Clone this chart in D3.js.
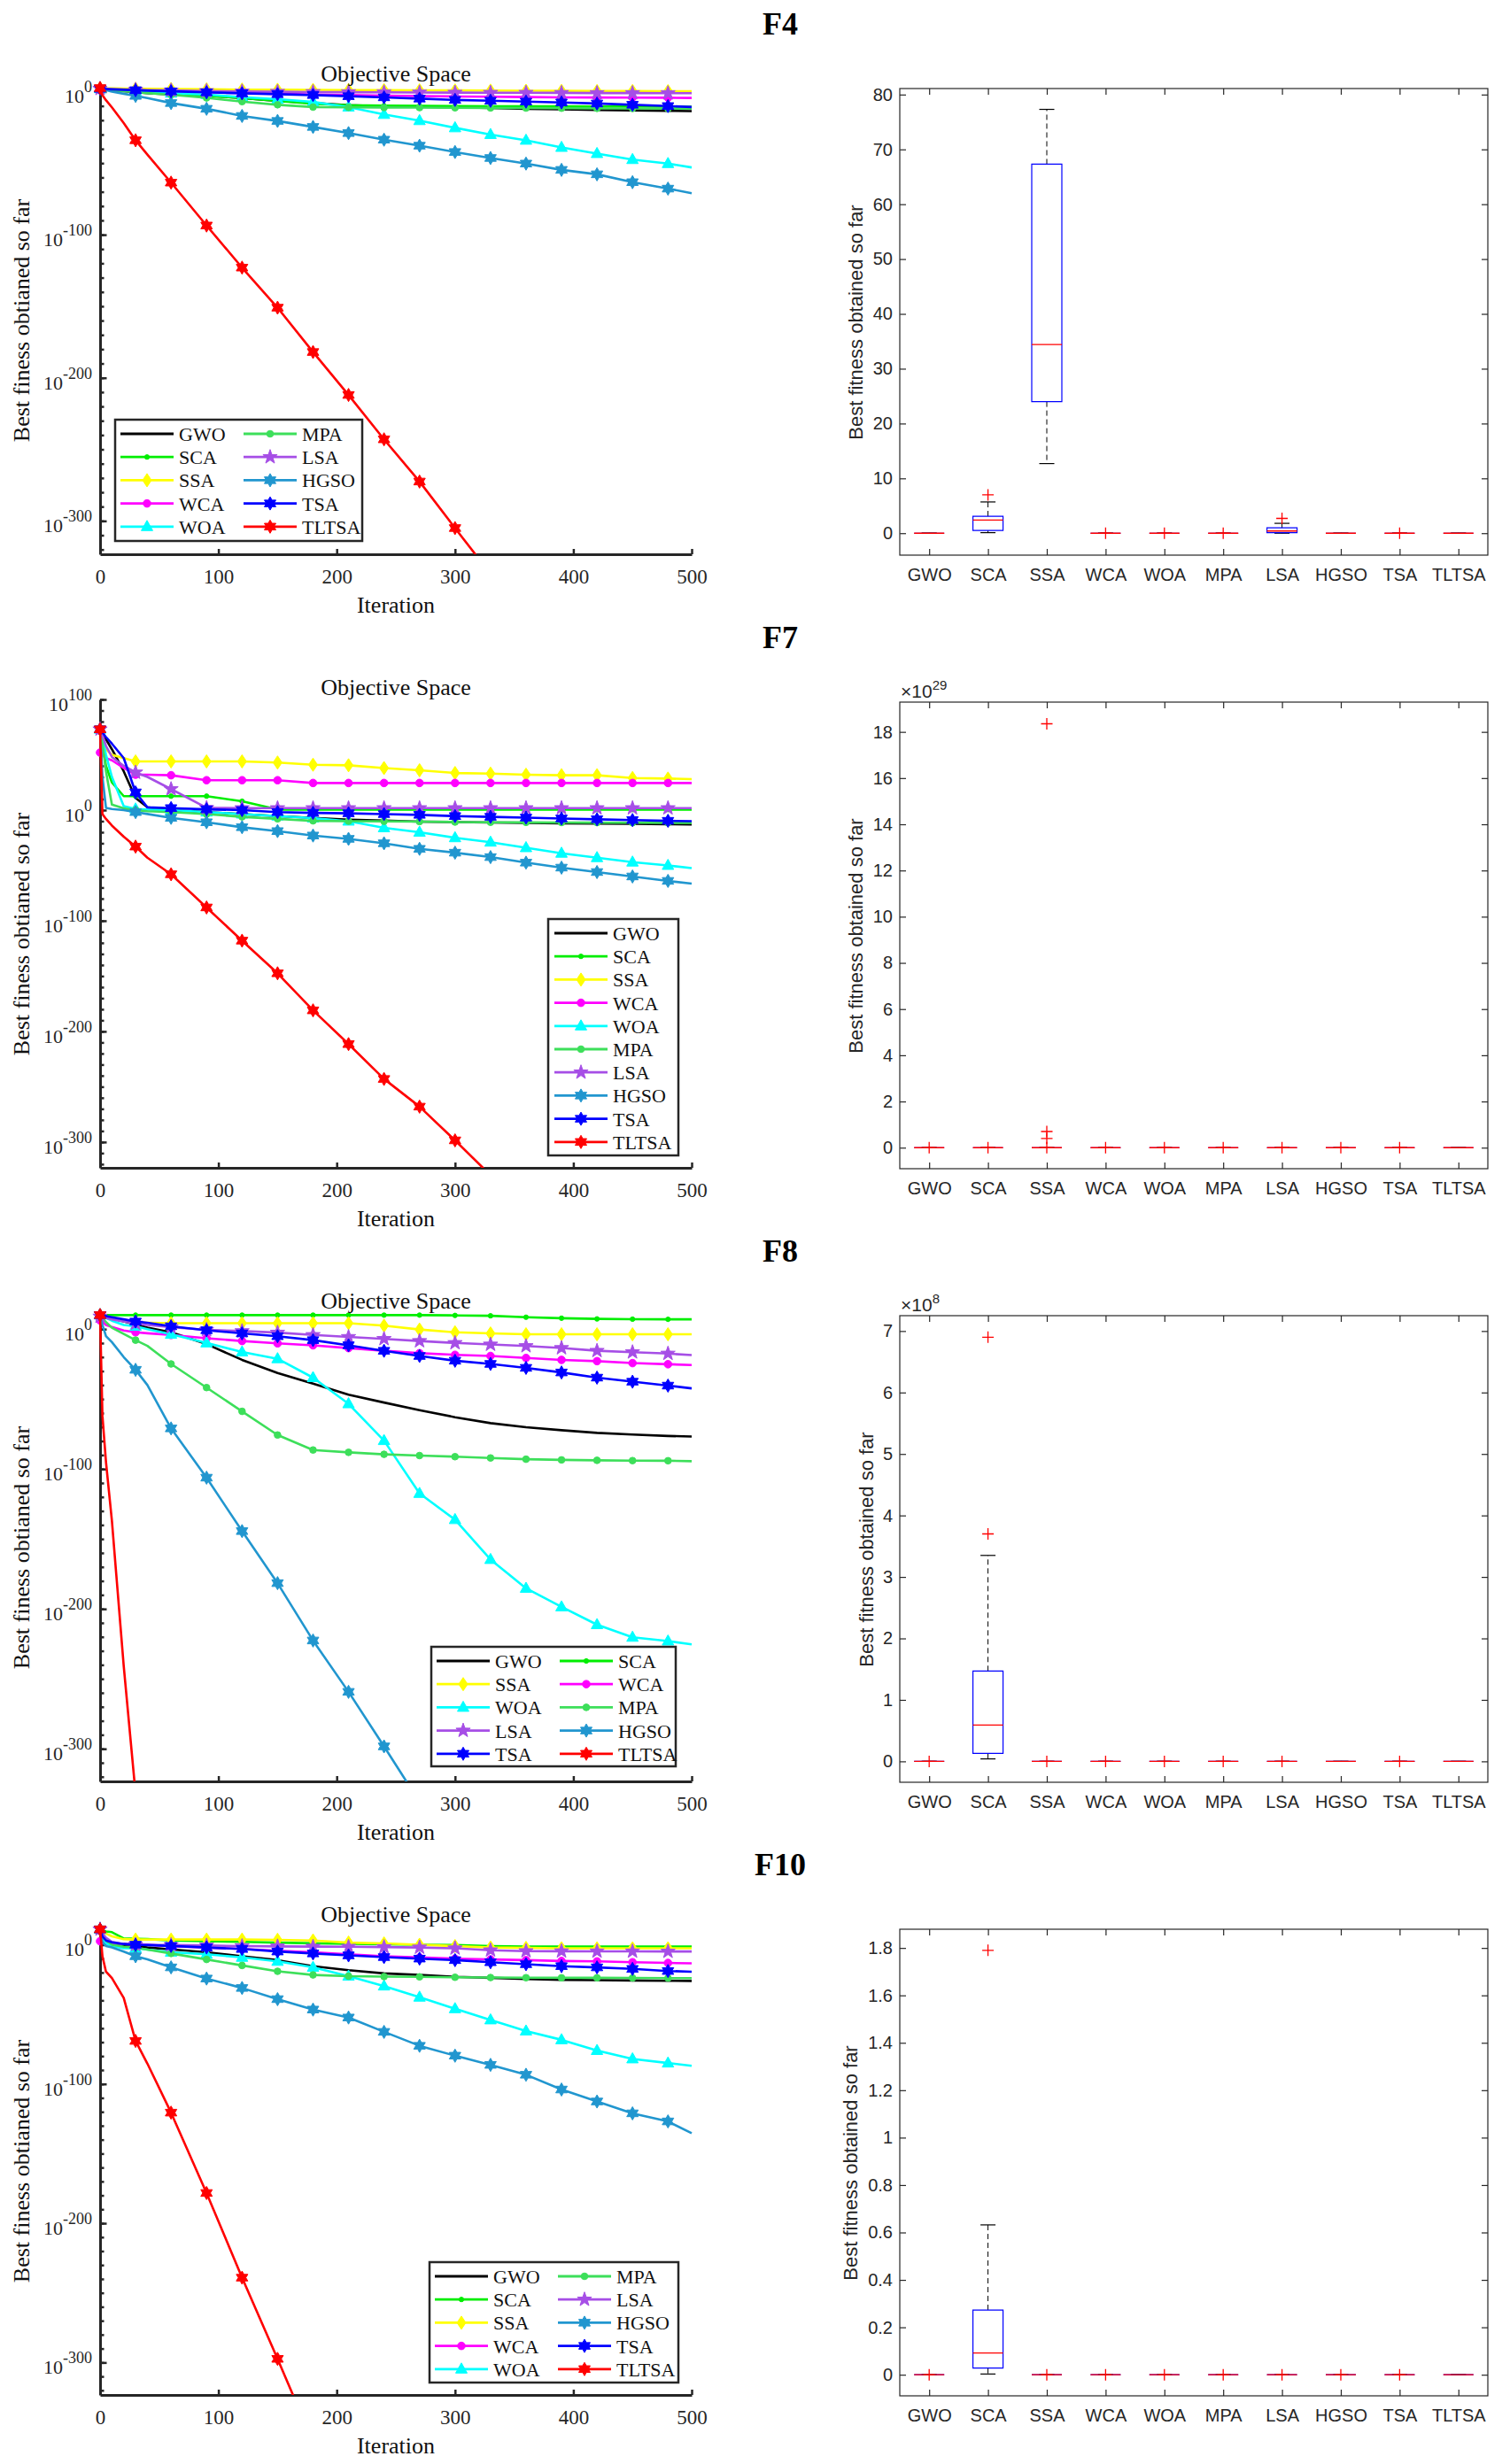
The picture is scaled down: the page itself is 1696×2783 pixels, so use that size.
<!DOCTYPE html>
<html>
<head>
<meta charset="utf-8">
<script src="https://cdn.jsdelivr.net/npm/d3@7"></script>
<style>
  body { margin: 0; background: #fff; }
</style>
</head>
<body>
<div id="chart"></div>
<script>
// ---- data: log10 of best fitness ----
const algos = ["GWO", "SCA", "SSA", "WCA", "WOA", "MPA", "LSA", "HGSO", "TSA", "TLTSA"];
const iters = [0, 2, 5, 10, 20, 30, 40, 60, 90, 120, 150, 180, 210, 240, 270, 300, 330, 360, 390, 420, 450, 480, 500];
const xTicks = [0, 100, 200, 300, 400, 500];

const f4GWO = [2, 1.8, 1.5, 1, 0.3, -0.5, -1, -2, -2.8, -4.5, -6.5, -8, -9.5, -10.2, -10.6, -11, -11.5, -12, -12.4, -12.8, -13.1, -13.4, -13.6];
const f4SCA = [2, 1.9, 1.7, 1.4, 0.8, 0.2, -0.3, -1.5, -3, -4.5, -6.5, -8.5, -9.5, -9.8, -10, -10.1, -10.2, -10.3, -10.3, -10.4, -10.4, -10.5, -10.5];
const f4SSA = [2.5, 2.4, 2.3, 2.2, 2.1, 2, 1.9, 1.8, 1.6, 1.4, 1.3, 1.2, 1.1, 1.0, 0.9, 0.8, 0.7, 0.6, 0.5, 0.4, 0.4, 0.3, 0.3];
const f4WCA = [2, 1.8, 1.6, 1.4, 1.1, 0.8, 0.5, 0.1, -0.5, -1, -1.5, -2, -2.4, -2.8, -3.1, -3.4, -3.6, -3.8, -4, -4.1, -4.2, -4.3, -4.4];
const f4WOA = [2, 1.8, 1.5, 1.2, 0.8, 0.3, -0.1, -1.1, -2, -3.9, -5.3, -7.2, -10.8, -16, -20.3, -25.3, -30, -34, -39, -43.3, -47.5, -50.3, -53];
const f4MPA = [2, 1.8, 1.5, 1, 0.3, -0.3, -1, -2.2, -4.4, -7, -9.2, -10.8, -11, -11.1, -11.2, -11.3, -11.4, -11.5, -11.6, -11.7, -11.8, -11.9, -11.9];
const f4LSA = [2, 1.9, 1.8, 1.7, 1.5, 1.3, 1.1, 0.8, 0.4, 0.1, -0.1, -0.3, -0.4, -0.5, -0.6, -0.7, -0.8, -0.8, -0.9, -1, -1, -1.1, -1.1];
const f4HGSO = [2, 1.6, 1, 0, -1.5, -3, -4.5, -8, -12, -17, -20.5, -24.7, -29, -33.6, -37.8, -42.2, -46.4, -50.3, -54.7, -57.8, -63.3, -67.8, -71];
const f4TSA = [2, 1.9, 1.8, 1.6, 1.3, 1, 0.7, 0.2, -0.5, -1.2, -1.8, -2.4, -3.2, -4, -4.9, -5.8, -6.4, -7, -7.6, -8.3, -9.2, -10.1, -10.8];
const f4TLTSA = [2.5, -2.5, -6, -11, -22, -34, -44, -63.6, -93.6, -123, -151, -182, -212, -243, -272.5, -305, -337, null, null, null, null, null, null];

const f7GWO = [73, 70, 64, 55, 35, 11, 2.5, 0, -1.8, -3.6, -5.4, -7, -8.6, -9.5, -10.4, -10.8, -11.2, -11.5, -12, -12.2, -12.4, -12.8, -13];
const f7SCA = [73, 60, 40, 25, 12.6, 12.6, 12.6, 12.6, 12.6, 8, 0.5, 0.5, 0.5, 0.5, 0.5, 0.5, 0.5, 0.5, 0.5, 0.5, 0.5, 0.5, 0.5];
const f7SSA = [73, 65, 55, 50, 47, 44, 44, 44, 44, 44, 43, 41, 40.5, 38, 36, 33.5, 33, 32, 31.5, 31.5, 29, 28.5, 28];
const f7WCA = [52, 50, 47, 45, 38, 32, 32, 31.5, 27, 27, 27, 24.5, 24.5, 24.5, 24.5, 24.5, 24.5, 24.5, 24.5, 24.5, 24.5, 24.5, 24.5];
const f7WOA = [73, 65, 50, 30, 3.6, 1, 0.5, 0, -1.8, -3.6, -5.4, -7.2, -10, -16, -20, -25, -29, -34, -39, -43, -47, -50, -52.5];
const f7MPA = [73, 60, 35, 5, 1.5, 0, -1, -1.8, -3.6, -6.1, -7.9, -9.7, -10, -10.1, -10.4, -10.8, -11, -11.1, -11.2, -11.3, -11.4, -11.5, -11.5];
const f7LSA = [73, 68, 58, 48, 40, 34, 30, 19, 2, 1.8, 1.8, 1.8, 1.8, 1.8, 1.8, 1.8, 1.8, 1.8, 1.8, 1.8, 1.8, 1.8, 1.8];
const f7HGSO = [73, 30, 2, 1, 0, -1.8, -3.5, -7, -11, -15.5, -19, -23, -26, -30, -35, -38.5, -42.5, -47.5, -52, -56, -60, -64, -66.5];
const f7TSA = [73, 70, 66, 60, 47, 16, 2.5, 1.8, 0.7, 0, -1.8, -2.5, -2.9, -3.6, -4.3, -5.4, -6.1, -6.8, -7.6, -8.3, -9, -9.7, -10];
const f7TLTSA = [73, -3.6, -8, -14, -24, -33, -43, -58, -88, -118, -147.5, -181, -211.5, -243, -268, -298.5, -330, null, null, null, null, null, null];

const f8GWO = [10, 9.5, 8.5, 7.5, 5.5, 3.4, 1, -2.3, -10.7, -22, -31.4, -39, -46.9, -52.5, -57.9, -63, -67.2, -70.1, -72.3, -74.2, -75.4, -76.4, -76.8];
const f8SCA = [10, 10, 10, 10, 10, 10, 10, 10, 10, 10, 10, 10, 10, 10, 10, 9.8, 9.5, 8.5, 7.8, 7.3, 7.1, 7, 7];
const f8SSA = [10, 9.5, 8.5, 7.5, 6, 4.8, 4.5, 4.2, 4.2, 4.2, 4.2, 4.2, 4.2, 2.5, -0.3, -2.3, -3.1, -3.7, -3.7, -3.7, -3.7, -3.7, -3.7];
const f8WCA = [6.2, 5, 3, 1.5, -1, -2.3, -3, -4.2, -6.5, -8.5, -10.2, -11.6, -13.6, -15.5, -17.2, -18.4, -19.2, -20.6, -22, -22.9, -24.3, -25.1, -25.7];
const f8WOA = [10, 9, 8, 6, 3, 2, 0, -3.7, -9.9, -16.4, -21.2, -34.7, -53.4, -79.7, -117.5, -136.2, -164.7, -185.3, -198.6, -211.3, -220.3, -223, -225.4];
const f8MPA = [10, 8, 5, 1, -3.5, -7.9, -12, -24.9, -41.8, -58.8, -75.7, -86.4, -88.1, -89.5, -90.4, -91.2, -92.1, -93, -93.5, -93.8, -94, -94.1, -94.4];
const f8LSA = [9, 8.5, 8, 7, 5.5, 4, 3, 1.4, -0.5, -1.4, -2.5, -4.2, -5.6, -7, -8.5, -9.9, -11, -12.1, -13.5, -15.5, -16.5, -17.5, -18.6];
const f8HGSO = [10, 3, -5, -9.3, -20, -29.1, -40, -71, -106.2, -144.4, -181.6, -222.6, -259.3, -298.3, -338, null, null, null, null, null, null, null, null];
const f8TSA = [10, 9.7, 9.3, 8.5, 7, 5.4, 4.5, 2, -0.8, -3.1, -5.1, -7.9, -11.6, -15.5, -19.2, -22.6, -24.9, -27.7, -31, -34.7, -37.6, -40.4, -42.4];
const f8TLTSA = [10, -62, -95, -137, -241, -332, null, null, null, null, null, null, null, null, null, null, null, null, null, null, null, null, null];

const f10GWO = [11, 6, 3, 1, -1, -1.1, -2, -3.4, -5.4, -8.3, -11.1, -15.4, -18.3, -20.6, -21.7, -23.1, -23.8, -24.6, -25.2, -25.5, -25.7, -25.9, -26];
const f10SCA = [11, 10.5, 9.5, 9, 4.5, 4.3, 4, 3, 2.5, 2, 1.5, 1, 0.6, 0.3, 0, -0.3, -1, -1.4, -1.4, -1.4, -1.4, -1.4, -1.4];
const f10SSA = [11, 10, 8, 6, 4, 3.7, 3.7, 3.7, 3.7, 3.7, 3.5, 3, 1.5, 0.9, 0, -1, -2, -2.3, -2.6, -2.6, -2.6, -2.6, -2.6];
const f10WCA = [2.5, 2, 1.5, 1, 0.5, 0.3, 0, -1.1, -2, -3.1, -4.3, -5.4, -6.9, -8.3, -9.1, -10, -10.6, -11.1, -11.7, -12, -12.6, -13.1, -13.4];
const f10WOA = [11, 5, 1, -1, -2.5, -2.6, -3.5, -5.4, -6.9, -9.1, -12, -16.3, -22.6, -29.7, -37.7, -46, -54, -62, -68.3, -76, -82, -85, -87];
const f10MPA = [11, 7, 3, 0, -1.5, -2, -3.5, -6.3, -10.6, -14.9, -19.1, -21.7, -22.6, -22.9, -23.1, -23.4, -23.6, -23.7, -23.8, -23.8, -23.9, -24, -24];
const f10LSA = [11, 8, 5, 2, 0.5, 0, -0.2, -0.3, -0.6, -1, -1.2, -1.4, -1.5, -1.7, -2, -2.6, -4, -4.6, -4.7, -4.8, -4.8, -4.9, -4.9];
const f10HGSO = [11, 2, -1, -2, -5, -8.3, -10.5, -16.3, -24.3, -31.1, -39.1, -46.6, -52.3, -62.6, -72.6, -79.7, -86.3, -93.4, -104, -112.6, -121.1, -126.9, -135.4];
const f10TSA = [11, 6, 3, 1.7, 0.5, 0, -0.3, -0.9, -2, -3.1, -4.9, -6.3, -7.7, -8.9, -10, -11.1, -12.6, -14, -15.4, -16.3, -17.4, -18.9, -19.4];
const f10TLTSA = [11, -8.3, -19.4, -24, -38.3, -69.1, -85.4, -120.6, -178.3, -239.1, -297.4, -357, null, null, null, null, null, null, null, null, null, null, null];

// ---- box plot statistics (one entry per algorithm) ----
const f4Q1 = [0, 0.5, 24, 0, 0, 0, 0.1, 0, 0, 0];
const f4Med = [0, 2.4, 34.4, 0, 0, 0, 0.4, 0, 0, 0];
const f4Q3 = [0, 3.1, 67.3, 0, 0, 0, 1.0, 0, 0, 0];
const f4Lo = [0, 0.1, 12.7, 0, 0, 0, 0, 0, 0, 0];
const f4Hi = [0, 5.7, 77.3, 0, 0, 0, 1.8, 0, 0, 0];
const f4Out = [[], [7.0], [], [0], [0], [0], [2.7], [], [0], []];

const f7Q1 = [0, 0, 0, 0, 0, 0, 0, 0, 0, 0];
const f7Med = [0, 0, 0, 0, 0, 0, 0, 0, 0, 0];
const f7Q3 = [0, 0, 0, 0, 0, 0, 0, 0, 0, 0];
const f7Lo = [0, 0, 0, 0, 0, 0, 0, 0, 0, 0];
const f7Hi = [0, 0, 0, 0, 0, 0, 0, 0, 0, 0];
const f7Out = [[0], [0], [18.35, 0.7, 0.4, 0], [0], [0], [0], [0], [0], [0], []];

const f8Q1 = [0, 0.13, 0, 0, 0, 0, 0, 0, 0, 0];
const f8Med = [0, 0.59, 0, 0, 0, 0, 0, 0, 0, 0];
const f8Q3 = [0, 1.47, 0, 0, 0, 0, 0, 0, 0, 0];
const f8Lo = [0, 0.04, 0, 0, 0, 0, 0, 0, 0, 0];
const f8Hi = [0, 3.35, 0, 0, 0, 0, 0, 0, 0, 0];
const f8Out = [[0], [6.9, 3.7], [0], [0], [0], [0], [0], [], [0], []];

const f10Q1 = [0, 0.028, 0, 0, 0, 0, 0, 0, 0, 0];
const f10Med = [0, 0.092, 0, 0, 0, 0, 0, 0, 0, 0];
const f10Q3 = [0, 0.273, 0, 0, 0, 0, 0, 0, 0, 0];
const f10Lo = [0, 0.003, 0, 0, 0, 0, 0, 0, 0, 0];
const f10Hi = [0, 0.632, 0, 0, 0, 0, 0, 0, 0, 0];
const f10Out = [[0], [1.79], [0], [0], [0], [0], [0], [0], [0], []];

const f4BoxTicks = [0, 10, 20, 30, 40, 50, 60, 70, 80];
const f7BoxTicks = [0, 2, 4, 6, 8, 10, 12, 14, 16, 18];
const f8BoxTicks = [0, 1, 2, 3, 4, 5, 6, 7];
const f10BoxTicks = [0, 0.2, 0.4, 0.6, 0.8, 1, 1.2, 1.4, 1.6, 1.8];

// ---- styles ----
const SERIF = '"Liberation Serif", "Times New Roman", serif';
const SANS = '"Liberation Sans", Arial, Helvetica, sans-serif';
const INK = "#262626";

function starPath(n, R, r) {
  let p = "";
  for (let i = 0; i < 2 * n; i++) {
    const a = Math.PI * i / n - Math.PI / 2;
    const rad = i % 2 ? r : R;
    p += (i ? "L" : "M") + (rad * Math.cos(a)).toFixed(2) + "," + (rad * Math.sin(a)).toFixed(2);
  }
  return p + "Z";
}
function circlePath(r) {
  return `M${-r},0a${r},${r} 0 1,0 ${2 * r},0a${r},${r} 0 1,0 ${-2 * r},0Z`;
}
const markerPath = {
  dot: circlePath(2.6),
  circle: circlePath(4.3),
  circleS: circlePath(3.8),
  diamond: "M0,-7.5L5,0L0,7.5L-5,0Z",
  triangle: "M0,-7L6.5,4.5L-6.5,4.5Z",
  star: starPath(5, 8.5, 3.4),
  hexagram: starPath(6, 7.5, 4.3)
};
const styles = {
  GWO: { color: "#000000", marker: null },
  SCA: { color: "#00ee00", marker: "dot" },
  SSA: { color: "#ffff00", marker: "diamond" },
  WCA: { color: "#ff00ff", marker: "circle" },
  WOA: { color: "#00ffff", marker: "triangle" },
  MPA: { color: "#3ddf5a", marker: "circleS" },
  LSA: { color: "#a64ee6", marker: "star" },
  HGSO: { color: "#2196cf", marker: "hexagram" },
  TSA: { color: "#0000ff", marker: "hexagram" },
  TLTSA: { color: "#ff0000", marker: "hexagram" }
};

const panels = [
  { title: "F4", off: 0, yDom: [-323.3, 4], yMajor: [0, -100, -200, -300],
    series: [f4GWO, f4SCA, f4SSA, f4WCA, f4WOA, f4MPA, f4LSA, f4HGSO, f4TSA, f4TLTSA],
    legend: { x: 130, y: 474, w: 279, h: 137, cols: 2, colMajor: true },
    box: { q1: f4Q1, med: f4Med, q3: f4Q3, lo: f4Lo, hi: f4Hi, out: f4Out, dom: [-4, 81.1], ticks: f4BoxTicks, exp: null, labelX: 974 } },
  { title: "F7", off: 693, yDom: [-323.3, 100], yMajor: [100, 0, -100, -200, -300],
    series: [f7GWO, f7SCA, f7SSA, f7WCA, f7WOA, f7MPA, f7LSA, f7HGSO, f7TSA, f7TLTSA],
    legend: { x: 619, y: 345, w: 147, h: 267, cols: 1, colMajor: true },
    box: { q1: f7Q1, med: f7Med, q3: f7Q3, lo: f7Lo, hi: f7Hi, out: f7Out, dom: [-0.91, 19.29], ticks: f7BoxTicks, exp: "29", labelX: 974 } },
  { title: "F8", off: 1386, yDom: [-323.3, 11.5], yMajor: [0, -100, -200, -300],
    series: [f8GWO, f8SCA, f8SSA, f8WCA, f8WOA, f8MPA, f8LSA, f8HGSO, f8TSA, f8TLTSA],
    legend: { x: 487, y: 474, w: 276, h: 135, cols: 2, colMajor: false },
    box: { q1: f8Q1, med: f8Med, q3: f8Q3, lo: f8Lo, hi: f8Hi, out: f8Out, dom: [-0.34, 7.25], ticks: f8BoxTicks, exp: "8", labelX: 986 } },
  { title: "F10", off: 2079, yDom: [-323.3, 13], yMajor: [0, -100, -200, -300],
    series: [f10GWO, f10SCA, f10SSA, f10WCA, f10WOA, f10MPA, f10LSA, f10HGSO, f10TSA, f10TLTSA],
    legend: { x: 485, y: 476, w: 281, h: 136, cols: 2, colMajor: true },
    box: { q1: f10Q1, med: f10Med, q3: f10Q3, lo: f10Lo, hi: f10Hi, out: f10Out, dom: [-0.089, 1.879], ticks: f10BoxTicks, exp: null, labelX: 968 } }
];

const svg = d3.select("#chart").append("svg")
  .attr("width", 1696).attr("height", 2783)
  .style("background", "#fff");

function drawCurves(p, idx) {
  const g = svg.append("g");
  const off = p.off;
  const x = d3.scaleLinear().domain([0, 500]).range([113, 781]);
  const y = d3.scaleLinear().domain(p.yDom).range([off + 626, off + 97]);

  const clipId = "clip" + idx;
  svg.append("clipPath").attr("id", clipId).append("rect")
    .attr("x", 100).attr("y", off + 70).attr("width", 700).attr("height", 626 - 70);

  // axes: minor ticks every 10 decades, longer ticks at labelled decades
  const minor = d3.range(Math.ceil(p.yDom[0] / 10) * 10, p.yDom[1] + 0.001, 10);
  const yAxis = g.append("g").attr("transform", "translate(113,0)")
    .call(d3.axisLeft(y).tickValues(minor).tickSizeInner(-4.5).tickSizeOuter(0).tickFormat(""));
  yAxis.select(".domain").attr("stroke", INK).attr("stroke-width", 3);
  yAxis.selectAll(".tick line").attr("stroke", INK).attr("stroke-width", 2.5);
  const yMaj = g.append("g").attr("transform", "translate(113,0)")
    .call(d3.axisLeft(y).tickValues(p.yMajor).tickSizeInner(-7.5).tickSizeOuter(0).tickFormat(""));
  yMaj.select(".domain").remove();
  yMaj.selectAll(".tick line").attr("stroke", INK).attr("stroke-width", 2.5);

  p.yMajor.forEach(e => {
    const t = g.append("text").attr("x", 104).attr("y", y(e) + 13)
      .attr("text-anchor", "end").attr("font-family", SERIF).attr("font-size", 22).attr("fill", INK)
      .text("10");
    t.append("tspan").attr("dy", -12).attr("font-size", 18).text(String(e));
  });

  const xAxis = g.append("g").attr("transform", `translate(0,${off + 626})`)
    .call(d3.axisBottom(x).tickValues(xTicks).tickSizeInner(-6).tickSizeOuter(0).tickPadding(17));
  xAxis.select(".domain").attr("stroke", INK).attr("stroke-width", 3);
  xAxis.selectAll(".tick line").attr("stroke", INK).attr("stroke-width", 2.5);
  xAxis.selectAll(".tick text").attr("font-family", SERIF).attr("font-size", 23).attr("fill", INK);

  // curves
  const plot = g.append("g").attr("clip-path", `url(#${clipId})`);
  const line = d3.line().defined(d => d[1] != null).x(d => x(d[0])).y(d => y(d[1]));
  algos.forEach((name, k) => {
    const st = styles[name];
    const pts = iters.map((it, i) => [it, p.series[k][i]]);
    plot.append("path").datum(pts).attr("d", line)
      .attr("fill", "none").attr("stroke", st.color).attr("stroke-width", 2.6)
      .attr("stroke-linejoin", "round");
    if (st.marker) {
      plot.selectAll(null).data(pts.filter(d => d[1] != null && d[0] % 30 === 0))
        .join("path")
        .attr("d", markerPath[st.marker])
        .attr("transform", d => `translate(${x(d[0])},${y(d[1])})`)
        .attr("fill", st.color).attr("stroke", st.color).attr("stroke-width", 1);
    }
  });

  // labels
  g.append("text").attr("x", 447).attr("y", off + 92).attr("text-anchor", "middle")
    .attr("font-family", SERIF).attr("font-size", 26).attr("fill", "#111").text("Objective Space");
  g.append("text").attr("x", 447).attr("y", off + 692).attr("text-anchor", "middle")
    .attr("font-family", SERIF).attr("font-size", 26).attr("fill", "#111").text("Iteration");
  g.append("text").attr("transform", `translate(33,${off + 362}) rotate(-90)`).attr("text-anchor", "middle")
    .attr("font-family", SERIF).attr("font-size", 26).attr("fill", "#111").text("Best finess obtianed so far");

  // legend
  const L = p.legend;
  const lg = g.append("g");
  lg.append("rect").attr("x", L.x).attr("y", off + L.y).attr("width", L.w).attr("height", L.h)
    .attr("fill", "#fff").attr("stroke", INK).attr("stroke-width", 2.5);
  const rows = Math.ceil(algos.length / L.cols);
  algos.forEach((name, k) => {
    const col = L.colMajor ? Math.floor(k / rows) : k % L.cols;
    const row = L.colMajor ? k % rows : Math.floor(k / L.cols);
    const lx = L.x + (L.cols === 1 ? 7 : 6 + col * 139);
    const ly = off + L.y + 16 + row * 26.2;
    const st = styles[name];
    lg.append("line").attr("x1", lx).attr("x2", lx + 60).attr("y1", ly).attr("y2", ly)
      .attr("stroke", st.color).attr("stroke-width", 2.8);
    if (st.marker) {
      lg.append("path").attr("d", markerPath[st.marker]).attr("transform", `translate(${lx + 30},${ly})`)
        .attr("fill", st.color).attr("stroke", st.color).attr("stroke-width", 1);
    }
    lg.append("text").attr("x", lx + 66).attr("y", ly + 8)
      .attr("font-family", SERIF).attr("font-size", 22).attr("fill", "#111").text(name);
  });
}

function drawBox(p) {
  const g = svg.append("g");
  const off = p.off, b = p.box;
  const left = 1016, right = 1680, top = off + 100, bottom = off + 627;
  const x = d3.scalePoint().domain(algos).range([left, right]).padding(0.5);
  const y = d3.scaleLinear().domain(b.dom).range([bottom, top]);

  g.append("rect").attr("x", left).attr("y", top).attr("width", right - left).attr("height", bottom - top)
    .attr("fill", "none").attr("stroke", INK).attr("stroke-width", 1.2);

  const styleAxis = sel => {
    sel.select(".domain").remove();
    sel.selectAll(".tick line").attr("stroke", INK).attr("stroke-width", 1.2);
    sel.selectAll(".tick text").attr("font-family", SANS).attr("font-size", 20).attr("fill", INK);
  };
  g.append("g").attr("transform", `translate(${left},0)`)
    .call(d3.axisLeft(y).tickValues(b.ticks).tickSizeInner(-7).tickSizeOuter(0).tickPadding(8).tickFormat(d => String(d)))
    .call(styleAxis);
  g.append("g").attr("transform", `translate(${right},0)`)
    .call(d3.axisRight(y).tickValues(b.ticks).tickSizeInner(-7).tickSizeOuter(0).tickFormat(""))
    .call(styleAxis);
  g.append("g").attr("transform", `translate(0,${top})`)
    .call(d3.axisTop(x).tickSizeInner(-7).tickSizeOuter(0).tickFormat(""))
    .call(styleAxis);
  g.append("g").attr("transform", `translate(0,${bottom})`)
    .call(d3.axisBottom(x).tickSizeInner(-7).tickSizeOuter(0).tickPadding(15))
    .call(styleAxis);

  if (b.exp) {
    const t = g.append("text").attr("x", left + 1).attr("y", off + 95)
      .attr("font-family", SANS).attr("font-size", 21).attr("fill", INK).text("\u00d710");
    t.append("tspan").attr("dy", -9).attr("font-size", 15).text(b.exp);
  }

  g.append("text").attr("transform", `translate(${b.labelX},${off + 364}) rotate(-90)`)
    .attr("text-anchor", "middle").attr("font-family", SANS).attr("font-size", 22).attr("fill", INK)
    .text("Best fitness obtained so far");

  const hw = 17, cw = 8.5;
  algos.forEach((name, k) => {
    const cx = x(name);
    // whiskers
    g.append("line").attr("x1", cx).attr("x2", cx).attr("y1", y(b.q3[k])).attr("y2", y(b.hi[k]))
      .attr("stroke", "#000").attr("stroke-width", 1).attr("stroke-dasharray", "6,4");
    g.append("line").attr("x1", cx).attr("x2", cx).attr("y1", y(b.q1[k])).attr("y2", y(b.lo[k]))
      .attr("stroke", "#000").attr("stroke-width", 1).attr("stroke-dasharray", "6,4");
    // caps
    [b.hi[k], b.lo[k]].forEach(v => {
      g.append("line").attr("x1", cx - cw).attr("x2", cx + cw).attr("y1", y(v)).attr("y2", y(v))
        .attr("stroke", "#000").attr("stroke-width", 1.2);
    });
    // box
    g.append("path")
      .attr("d", `M${cx - hw},${y(b.q1[k])}H${cx + hw}V${y(b.q3[k])}H${cx - hw}Z`)
      .attr("fill", "none").attr("stroke", "#0000ff").attr("stroke-width", 1.2);
    // median
    g.append("line").attr("x1", cx - hw).attr("x2", cx + hw).attr("y1", y(b.med[k])).attr("y2", y(b.med[k]))
      .attr("stroke", "#ff0000").attr("stroke-width", 1.3);
    // outliers
    b.out[k].forEach(v => {
      g.append("path").attr("d", "M-6.5,0H6.5M0,-6.5V6.5")
        .attr("transform", `translate(${cx},${y(v)})`)
        .attr("stroke", "#ff0000").attr("stroke-width", 1.3).attr("fill", "none");
    });
  });
}

panels.forEach((p, i) => {
  svg.append("text").attr("x", 881).attr("y", p.off + 39).attr("text-anchor", "middle")
    .attr("font-family", SERIF).attr("font-size", 36).attr("font-weight", "bold").attr("fill", "#000")
    .text(p.title);
  drawCurves(p, i);
  drawBox(p);
});
</script>
</body>
</html>
